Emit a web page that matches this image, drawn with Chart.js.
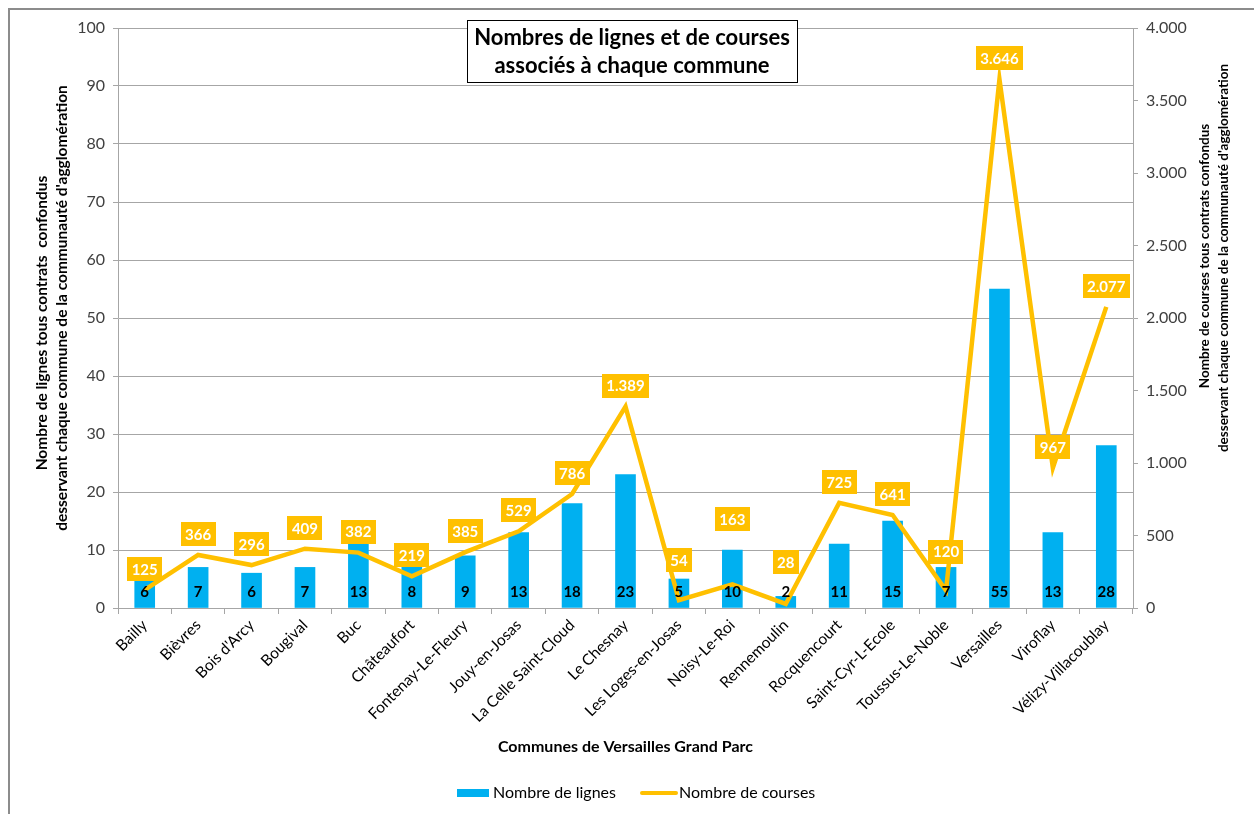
<!DOCTYPE html>
<html>
<head>
<meta charset="utf-8">
<script src="https://cdn.jsdelivr.net/npm/chart.js@4.4.0/dist/chart.umd.min.js"></script>
<style>
  html, body { margin: 0; padding: 0; background: #fff; }
  #wrap { width: 1254px; height: 814px; }
</style>
</head>
<body>
<div id="wrap"><canvas id="graphique" width="1254" height="814"></canvas></div>
<script>
// ==========================================
// Données
// ==========================================
const communes = ["Bailly", "Bièvres", "Bois d'Arcy", "Bougival", "Buc", "Châteaufort",
  "Fontenay-Le-Fleury", "Jouy-en-Josas", "La Celle Saint-Cloud", "Le Chesnay",
  "Les Loges-en-Josas", "Noisy-Le-Roi", "Rennemoulin", "Rocquencourt", "Saint-Cyr-L-Ecole",
  "Toussus-Le-Noble", "Versailles", "Viroflay", "Vélizy-Villacoublay"];
const nbLignes = [6, 7, 6, 7, 13, 8, 9, 13, 18, 23, 5, 10, 2, 11, 15, 7, 55, 13, 28];
const nbCourses = [125, 366, 296, 409, 382, 219, 385, 529, 786, 1389, 54, 163, 28, 725, 641, 120, 3646, 967, 2077];

const titreLignes = ["Nombres de lignes et de courses", "associés à chaque commune"];
const titreAxeX = "Communes de Versailles Grand Parc";
const titreAxeG = ["Nombre de lignes tous contrats  confondus", "desservant chaque commune de la communauté d'agglomération"];
const titreAxeD = ["Nombre de courses tous contrats confondus", "desservant chaque commune de la communauté d'agglomération"];

// décalage vertical supplémentaire de certaines étiquettes (px)
const levee = [0, 0, 0, 0, 0, 0, 0, 0, 0, 0, 19, 44, 21, 0, 0, 18, 0, 0, 0];

const BLEU = '#00B0F0';
const JAUNE = '#FFC000';
const GRILLE = '#a6a6a6';
const POLICE = 'Lato, "Open Sans", sans-serif';

// séparateur de milliers à la française (point)
function fmt(v) {
  return String(v).replace(/\B(?=(\d{3})+(?!\d))/g, '.');
}

// texte vertical (lecture de bas en haut)
function texteVertical(ctx, txt, x, y) {
  ctx.save();
  ctx.translate(x, y);
  ctx.rotate(-Math.PI / 2);
  ctx.fillText(txt, 0, 0);
  ctx.restore();
}

// ==========================================
// Décor : cadre, titre, titres d'axes, légende, étiquettes
// ==========================================
const decor = {
  id: 'decor',
  beforeDraw(chart) {
    const ctx = chart.ctx;
    ctx.save();
    ctx.fillStyle = '#fff';
    ctx.fillRect(0, 0, chart.width, chart.height);
    ctx.fillStyle = '#8c8c8c';
    ctx.fillRect(8, 8, chart.width - 8, 2);
    ctx.fillRect(8, 8, 2, chart.height - 8);
    ctx.restore();
  },
  afterDatasetsDraw(chart) {
    const ctx = chart.ctx;
    const barres = chart.getDatasetMeta(0).data;
    const points = chart.getDatasetMeta(1).data;
    const bas = chart.scales.y.bottom;
    ctx.save();
    ctx.textAlign = 'center';
    ctx.textBaseline = 'middle';
    ctx.font = 'bold 15px ' + POLICE;
    ctx.fillStyle = '#000';
    barres.forEach((b, i) => ctx.fillText(nbLignes[i], b.x, bas - 16));

    points.forEach((p, i) => {
      const txt = fmt(nbCourses[i]);
      const w = ctx.measureText(txt).width + 9;
      const h = 24;
      const cy = p.y - 21 - levee[i];
      ctx.fillStyle = JAUNE;
      ctx.fillRect(Math.round(p.x - w / 2), Math.round(cy - h / 2), Math.round(w), h);
      ctx.fillStyle = '#fff';
      ctx.fillText(txt, p.x, cy + 1);
    });
    ctx.restore();
  },
  afterDraw(chart) {
    const ctx = chart.ctx;
    const ca = chart.chartArea;
    ctx.save();

    // titre encadré
    ctx.fillStyle = '#fff';
    ctx.fillRect(467, 20, 331, 63);
    ctx.strokeStyle = '#000';
    ctx.lineWidth = 1;
    ctx.strokeRect(467.5, 20.5, 330, 62);
    ctx.fillStyle = '#000';
    ctx.font = 'bold 22px ' + POLICE;
    ctx.textAlign = 'center';
    ctx.textBaseline = 'middle';
    ctx.fillText(titreLignes[0], 632, 38);
    ctx.fillText(titreLignes[1], 632, 66);

    // titre axe X
    ctx.font = 'bold 16px ' + POLICE;
    ctx.fillText(titreAxeX, (ca.left + ca.right) / 2, 747);

    // titres des axes verticaux
    ctx.font = 'bold 15.5px ' + POLICE;
    texteVertical(ctx, titreAxeG[0], 42, 323);
    texteVertical(ctx, titreAxeG[1], 62, 308);
    ctx.font = 'bold 13.5px ' + POLICE;
    texteVertical(ctx, titreAxeD[0], 1205, 256);
    texteVertical(ctx, titreAxeD[1], 1224, 258);

    // légende
    ctx.font = '16px ' + POLICE;
    ctx.textAlign = 'left';
    ctx.fillStyle = BLEU;
    ctx.fillRect(457, 789, 32, 8);
    ctx.fillStyle = '#000';
    ctx.fillText(chart.data.datasets[0].label, 493, 793);
    ctx.strokeStyle = JAUNE;
    ctx.lineWidth = 4;
    ctx.lineCap = 'round';
    ctx.beginPath();
    ctx.moveTo(642, 793);
    ctx.lineTo(676, 793);
    ctx.stroke();
    ctx.fillText(chart.data.datasets[1].label, 679, 793);
    ctx.restore();
  }
};

// ==========================================
// Graphique
// ==========================================
new Chart(document.getElementById('graphique'), {
  data: {
    labels: communes,
    datasets: [
      {
        type: 'bar',
        label: 'Nombre de lignes',
        data: nbLignes,
        backgroundColor: BLEU,
        yAxisID: 'y',
        barThickness: 20,
        order: 2
      },
      {
        type: 'line',
        label: 'Nombre de courses',
        data: nbCourses,
        borderColor: JAUNE,
        borderWidth: 4.5,
        pointRadius: 0,
        tension: 0,
        yAxisID: 'y1',
        order: 1
      }
    ]
  },
  plugins: [decor],
  options: {
    responsive: false,
    animation: false,
    layout: { padding: { top: 28, left: 0, right: 0, bottom: 0 } },
    plugins: { legend: { display: false }, tooltip: { enabled: false } },
    scales: {
      x: {
        offset: true,
        grid: { offset: true, drawOnChartArea: false, color: GRILLE, tickLength: 6 },
        border: { color: GRILLE },
        ticks: {
          minRotation: 45, maxRotation: 45, autoSkip: false,
          color: '#000', font: { family: POLICE, size: 15.5 }, padding: 2
        },
        afterFit(s) { s.height = 206; }
      },
      y: {
        position: 'left',
        min: 0, max: 100,
        ticks: { stepSize: 10, color: '#404040', font: { family: POLICE, size: 16 }, padding: 8 },
        grid: { color: GRILLE, tickLength: 5 },
        border: { color: GRILLE },
        afterFit(s) { s.width = 118; }
      },
      y1: {
        position: 'right',
        min: 0, max: 4000,
        ticks: {
          stepSize: 500, color: '#404040', font: { family: POLICE, size: 16 }, padding: 8,
          callback: v => fmt(v)
        },
        grid: { drawOnChartArea: false, color: GRILLE, tickLength: 5 },
        border: { color: GRILLE },
        afterFit(s) { s.width = 121; }
      }
    }
  }
});
</script>
</body>
</html>
